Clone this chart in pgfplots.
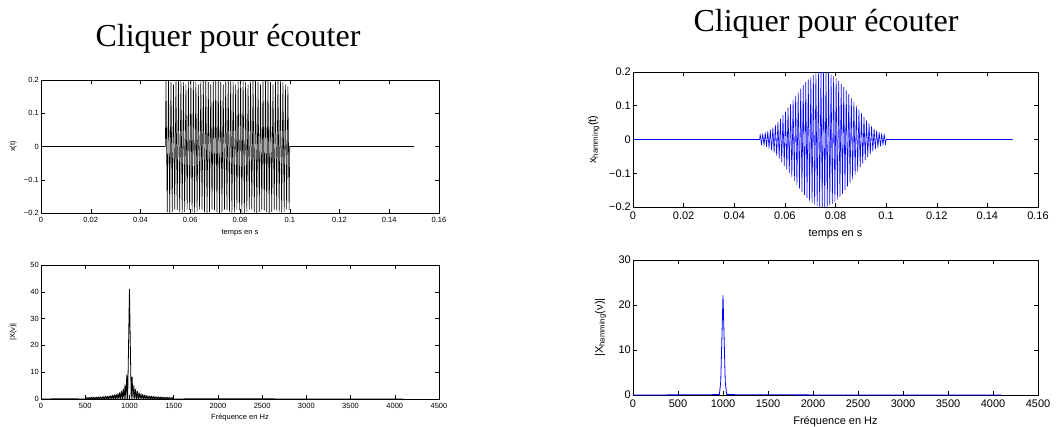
\documentclass[border=0pt]{standalone}
\usepackage{pgfplots}
\pgfplotsset{compat=1.18}
\usepackage{pgfplotstable}
\usepackage{fontspec}
\setmainfont{Liberation Sans}
\newfontfamily\titlefont{Liberation Serif}

\pgfplotstableread{
t x
0 0
0.05 0
0.05025 0.200
0.05075 -0.197
0.05125 0.198
0.05175 -0.200
0.05225 0.193
0.05275 -0.196
0.05325 0.186
0.05375 -0.189
0.05425 0.195
0.05475 -0.191
0.05525 0.200
0.05575 -0.197
0.05625 0.198
0.05675 -0.200
0.05725 0.193
0.05775 -0.196
0.05825 0.186
0.05875 -0.189
0.05925 0.195
0.05975 -0.191
0.06025 0.200
0.06075 -0.197
0.06125 0.198
0.06175 -0.200
0.06225 0.193
0.06275 -0.196
0.06325 0.186
0.06375 -0.189
0.06425 0.195
0.06475 -0.191
0.06525 0.200
0.06575 -0.197
0.06625 0.198
0.06675 -0.200
0.06725 0.193
0.06775 -0.196
0.06825 0.186
0.06875 -0.189
0.06925 0.195
0.06975 -0.191
0.07025 0.200
0.07075 -0.197
0.07125 0.198
0.07175 -0.200
0.07225 0.193
0.07275 -0.196
0.07325 0.186
0.07375 -0.189
0.07425 0.195
0.07475 -0.191
0.07525 0.200
0.07575 -0.197
0.07625 0.198
0.07675 -0.200
0.07725 0.193
0.07775 -0.196
0.07825 0.186
0.07875 -0.189
0.07925 0.195
0.07975 -0.191
0.08025 0.200
0.08075 -0.197
0.08125 0.198
0.08175 -0.200
0.08225 0.193
0.08275 -0.196
0.08325 0.186
0.08375 -0.189
0.08425 0.195
0.08475 -0.191
0.08525 0.200
0.08575 -0.197
0.08625 0.198
0.08675 -0.200
0.08725 0.193
0.08775 -0.196
0.08825 0.186
0.08875 -0.189
0.08925 0.195
0.08975 -0.191
0.09025 0.200
0.09075 -0.197
0.09125 0.198
0.09175 -0.200
0.09225 0.193
0.09275 -0.196
0.09325 0.186
0.09375 -0.189
0.09425 0.195
0.09475 -0.191
0.09525 0.200
0.09575 -0.197
0.09625 0.198
0.09675 -0.200
0.09725 0.193
0.09775 -0.196
0.09825 0.186
0.09875 -0.189
0.09925 0.180
0.09975 -0.190
0.1 0
0.15 0
}\rectsig

\pgfplotstableread{
t x
0 0
0.05 0
0.05025 0.016
0.05075 -0.016
0.05125 0.017
0.05175 -0.018
0.05225 0.020
0.05275 -0.021
0.05325 0.024
0.05375 -0.026
0.05425 0.029
0.05475 -0.032
0.05525 0.035
0.05575 -0.039
0.05625 0.043
0.05675 -0.047
0.05725 0.052
0.05775 -0.056
0.05825 0.061
0.05875 -0.066
0.05925 0.071
0.05975 -0.077
0.06025 0.082
0.06075 -0.088
0.06125 0.094
0.06175 -0.099
0.06225 0.105
0.06275 -0.111
0.06325 0.117
0.06375 -0.122
0.06425 0.128
0.06475 -0.134
0.06525 0.139
0.06575 -0.145
0.06625 0.150
0.06675 -0.155
0.06725 0.160
0.06775 -0.164
0.06825 0.169
0.06875 -0.173
0.06925 0.177
0.06975 -0.181
0.07025 0.184
0.07075 -0.187
0.07125 0.190
0.07175 -0.192
0.07225 0.195
0.07275 -0.196
0.07325 0.198
0.07375 -0.199
0.07425 0.200
0.07475 -0.200
0.07525 0.200
0.07575 -0.200
0.07625 0.199
0.07675 -0.198
0.07725 0.196
0.07775 -0.195
0.07825 0.192
0.07875 -0.190
0.07925 0.187
0.07975 -0.184
0.08025 0.181
0.08075 -0.177
0.08125 0.173
0.08175 -0.169
0.08225 0.164
0.08275 -0.160
0.08325 0.155
0.08375 -0.150
0.08425 0.145
0.08475 -0.139
0.08525 0.134
0.08575 -0.128
0.08625 0.122
0.08675 -0.117
0.08725 0.111
0.08775 -0.105
0.08825 0.099
0.08875 -0.094
0.08925 0.088
0.08975 -0.082
0.09025 0.077
0.09075 -0.071
0.09125 0.066
0.09175 -0.061
0.09225 0.056
0.09275 -0.052
0.09325 0.047
0.09375 -0.043
0.09425 0.039
0.09475 -0.035
0.09525 0.032
0.09575 -0.029
0.09625 0.026
0.09675 -0.024
0.09725 0.021
0.09775 -0.020
0.09825 0.018
0.09875 -0.017
0.09925 0.016
0.09975 -0.016
0.1 0
0.15 0
}\hamsig

\pgfplotstableread{
f X
0 0
300 0.1
500 0
510 0.54
520 0
530 0.57
540 0
550 0.59
560 0
570 0.62
580 0
590 0.65
600 0
610 0.68
620 0
630 0.72
640 0
650 0.76
660 0
670 0.80
680 0
690 0.85
700 0
710 0.91
720 0
730 0.98
740 0
750 1.06
760 0
770 1.15
780 0
790 1.26
800 0
810 1.39
820 0
830 1.55
840 0
850 1.76
860 0
870 2.03
880 0
890 2.40
900 0
910 2.95
920 0
930 3.80
940 0
950 5.30
960 0
970 9.00
980 0
990 20
1000 41
1010 20
1020 0
1030 8.20
1040 0
1050 5.00
1060 0
1070 3.60
1080 0
1090 2.80
1100 0
1110 2.30
1120 0
1130 1.95
1140 0
1150 1.70
1160 0
1170 1.50
1180 0
1190 1.34
1200 0
1210 1.21
1220 0
1230 1.10
1240 0
1250 1.02
1260 0
1270 0.95
1280 0
1290 0.88
1300 0
1310 0.82
1320 0
1330 0.77
1340 0
1350 0.73
1360 0
1370 0.69
1380 0
1390 0.66
1400 0
1410 0.63
1420 0
1430 0.60
1440 0
1450 0.57
1460 0
1470 0.55
1480 0
1490 0.52
1500 0
1800 0.1
2200 0.05
4096 0
}\rectspec

\pgfplotstableread{
f X
0 0
500 0.03
900 0.08
960 0.12
975 3
1000 22.1
1025 3
1040 0.12
1100 0.08
2000 0.02
4096 0
}\hamspec

\pgfplotsset{
  mstyle/.style={
    scale only axis, anchor=south west, tick align=inside,
    axis line style={line width=0.7pt},
    major tick style={line width=0.5pt, black},
    major tick length=4pt,
    /pgf/number format/assume math mode=true,
    tick label style={inner sep=2pt},
  },
  smallf/.style={font=\fontsize{7.5}{9}\selectfont, xticklabel style={yshift=-2.5pt}},
  bigf/.style={font=\fontsize{11}{13}\selectfont, xticklabel style={yshift=-2.5pt}},
}

\begin{document}
\begin{tikzpicture}
\useasboundingbox (0,0) rectangle (1060pt,426pt);

\node[font=\titlefont\fontsize{32}{38}\selectfont, anchor=base] at (228pt,379pt) {Cliquer pour écouter};
\node[font=\titlefont\fontsize{32}{38}\selectfont, anchor=base] at (826pt,394pt) {Cliquer pour écouter};

% left top
\begin{axis}[mstyle, smallf, at={(41pt,213pt)}, width=398pt, height=133pt,
  xmin=0, xmax=0.16, ymin=-0.2, ymax=0.2,
  xtick={0,0.02,0.04,0.06,0.08,0.1,0.12,0.14,0.16},
  xticklabels={0,0.02,0.04,0.06,0.08,0.1,0.12,0.14,0.16},
  ytick={-0.2,-0.1,0,0.1,0.2},
  yticklabels={−0.2,−0.1,0,0.1,0.2},
  xlabel={temps en s}, ylabel={x(t)},
  xlabel style={at={(axis description cs:0.5,0)}, anchor=center, yshift=-20pt},
  ylabel style={at={(axis description cs:-0.07,0.5)}, anchor=center},
]
\addplot[black, line width=0.6pt, line join=round] table[x=t,y=x] {\rectsig};
\end{axis}

% left bottom
\begin{axis}[mstyle, smallf, at={(41pt,27pt)}, width=398pt, height=134pt,
  xmin=0, xmax=4500, ymin=0, ymax=50,
  xtick={0,500,...,4500},
  xticklabels={0,500,1000,1500,2000,2500,3000,3500,4000,4500},
  ytick={0,10,...,50},
  yticklabels={0,10,20,30,40,50},
  xlabel={Fréquence en Hz}, ylabel={|X(ν)|},
  xlabel style={at={(axis description cs:0.5,0)}, anchor=center, yshift=-19pt},
  ylabel style={at={(axis description cs:-0.07,0.5)}, anchor=center},
]
\addplot[black, line width=0.8pt, line join=round] table[x=f,y=X] {\rectspec};
\end{axis}

% right top
\begin{axis}[mstyle, bigf, at={(633pt,219pt)}, width=405pt, height=135pt,
  xmin=0, xmax=0.16, ymin=-0.2, ymax=0.2,
  xtick={0,0.02,0.04,0.06,0.08,0.1,0.12,0.14,0.16},
  xticklabels={0,0.02,0.04,0.06,0.08,0.1,0.12,0.14,0.16},
  ytick={-0.2,-0.1,0,0.1,0.2},
  yticklabels={−0.2,−0.1,0,0.1,0.2},
  xlabel={temps en s}, ylabel={x\textsubscript{hamming}(t)},
  xlabel style={at={(axis description cs:0.5,0)}, anchor=center, yshift=-27pt},
  ylabel style={at={(axis description cs:-0.097,0.5)}, anchor=center},
]
\addplot[blue, line width=0.6pt, line join=round] table[x=t,y=x] {\hamsig};
\end{axis}

% right bottom
\begin{axis}[mstyle, bigf, at={(633pt,31pt)}, width=405pt, height=135pt,
  xmin=0, xmax=4500, ymin=0, ymax=30,
  xtick={0,500,...,4500},
  xticklabels={0,500,1000,1500,2000,2500,3000,3500,4000,4500},
  ytick={0,10,20,30},
  yticklabels={0,10,20,30},
  xlabel={Fréquence en Hz}, ylabel={|X\textsubscript{hamming}(ν)|},
  xlabel style={at={(axis description cs:0.5,0)}, anchor=center, yshift=-27pt},
  ylabel style={at={(axis description cs:-0.08,0.5)}, anchor=center},
]
\addplot[blue, line width=0.8pt, line join=round] table[x=f,y=X] {\hamspec};
\end{axis}
\end{tikzpicture}
\end{document}
